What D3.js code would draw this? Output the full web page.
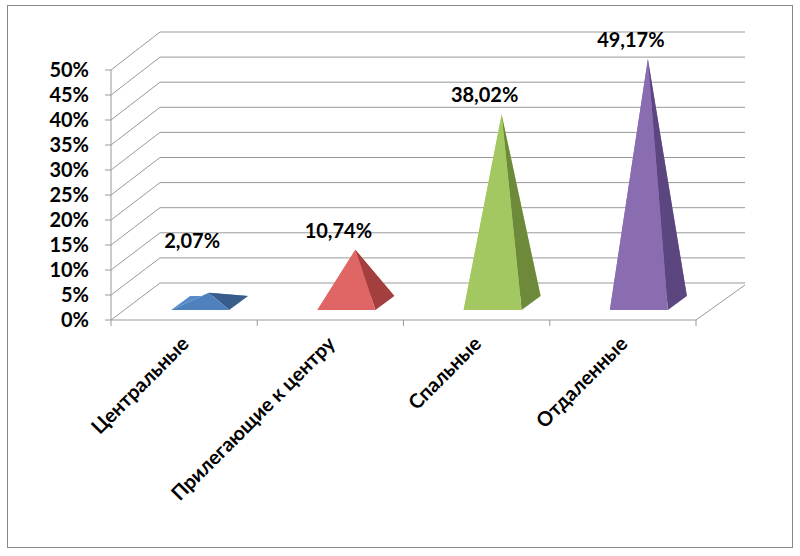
<!DOCTYPE html>
<html><head><meta charset="utf-8">
<script src="https://cdn.jsdelivr.net/npm/d3@7"></script>
<style>body{margin:0;background:#fff}text{font-family:Lato,"Open Sans",sans-serif;font-weight:bold}</style>
</head><body>
<svg id="c" width="800" height="556"></svg>
<script>
var categories = ["Центральные", "Прилегающие к центру", "Спальные", "Отдаленные"]
var values = [2.07, 10.74, 38.02, 49.17]
var labels = ["2,07%", "10,74%", "38,02%", "49,17%"]
var ticks = [0, 5, 10, 15, 20, 25, 30, 35, 40, 45, 50]
var front = ["#4f81bd", "#e06666", "#a3c862", "#8a6db0"]
var side = ["#385d8a", "#a33f3f", "#6d8a3a", "#5c4680"]

var svg = d3.select("#c")
svg.append("rect").attr("x", 7.5).attr("y", 5.5).attr("width", 785).attr("height", 542)
    .attr("fill", "none").attr("stroke", "#888")

var yFront = d3.scaleLinear().domain([0, 50]).range([320, 70])
var yBack = d3.scaleLinear().domain([0, 50]).range([283, 32])
var yMid = d3.scaleLinear().domain([0, 50]).range([303, 55])
var x = d3.scaleBand().domain(categories).range([111, 696])

var g = svg.append("g").attr("stroke", "#999").attr("fill", "none")
ticks.forEach(function (t) {
    g.append("path").attr("d", "M111," + yFront(t) + "L160," + yBack(t) + "L745," + yBack(t))
    g.append("line").attr("x1", 105).attr("x2", 111).attr("y1", yFront(t)).attr("y2", yFront(t))
    svg.append("text").attr("x", 89).attr("y", yFront(t) + 7).attr("text-anchor", "end")
        .attr("font-size", 20).text(t + "%")
})
g.append("path").attr("d", "M111,320L696,320L745,285")
g.append("line").attr("x1", 111).attr("x2", 111).attr("y1", 70).attr("y2", 320)
x.domain().concat(["end"]).forEach(function (c, i) {
    var xx = 111 + i * x.bandwidth()
    g.append("line").attr("x1", xx).attr("x2", xx).attr("y1", 320).attr("y2", 326)
})

categories.forEach(function (c, i) {
    var cx = x(c) + x.bandwidth() / 2 + 16
    var l = cx - 29, r = cx + 29, fy = 310, br = r + 19, by = 296
    var ax = cx + 9, ay = yMid(values[i])
    var pg = svg.append("g")
    // back-left face, only shows on the flat one
    pg.append("path").attr("d", "M" + l + "," + fy + "L" + (l + 19) + "," + by + "L" + br + "," + by + "L" + ax + "," + ay + "Z")
        .attr("fill", d3.color(front[i]).brighter(0.2))
    pg.append("path").attr("d", "M" + r + "," + fy + "L" + br + "," + by + "L" + ax + "," + ay + "Z").attr("fill", side[i])
    pg.append("path").attr("d", "M" + l + "," + fy + "L" + r + "," + fy + "L" + ax + "," + ay + "Z").attr("fill", front[i])
    svg.append("text").attr("x", cx - 8).attr("y", Math.min(ay, 260) - 12)
        .attr("text-anchor", "middle").attr("font-size", 20).text(labels[i])
    svg.append("text").attr("transform", "translate(" + (cx - 10) + ",345) rotate(-45)")
        .attr("text-anchor", "end").attr("font-size", 20).text(c)
})
</script>
</body></html>
